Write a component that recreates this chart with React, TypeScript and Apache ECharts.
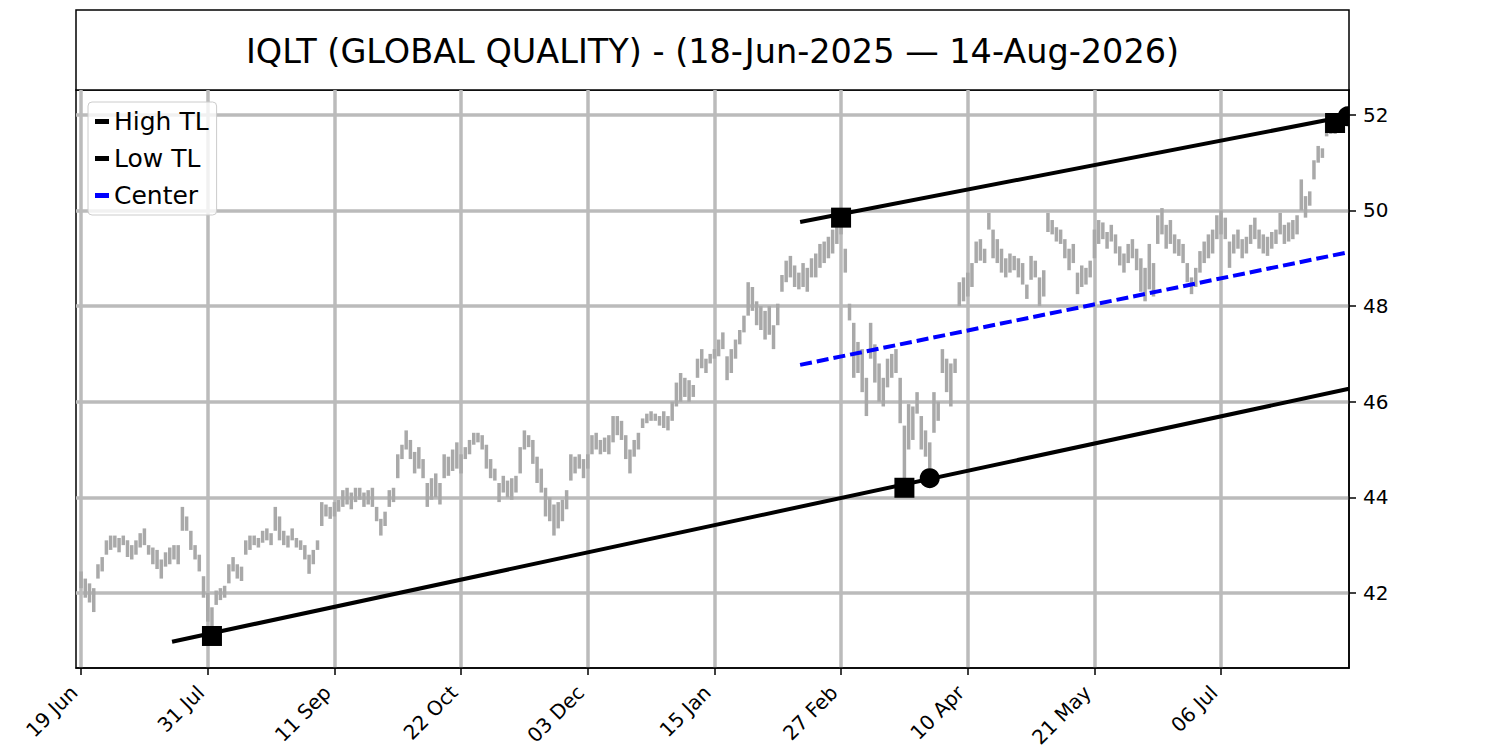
import React, { useEffect, useRef } from 'react';
import * as echarts from 'echarts';

const TITLE = 'IQLT (GLOBAL QUALITY) - (18-Jun-2025 — 14-Aug-2026)';

const tickIndex = [0, 30, 60, 90, 120, 150, 180, 210, 240, 270];
const tickLabels = ['19 Jun', '31 Jul', '11 Sep', '22 Oct', '03 Dec', '15 Jan', '27 Feb', '10 Apr', '21 May', '06 Jul'];
const yTicks = [42, 44, 46, 48, 50, 52];

const barLow = [
  42.1, 41.9, 41.8, 41.6, 42.3, 42.45, 42.8, 42.9, 42.95, 42.85,
  43.0, 42.75, 42.7, 42.8, 42.95, 43.0, 42.8, 42.6, 42.5, 42.3,
  42.55, 42.6, 42.7, 42.6, 43.3, 43.3, 42.9, 42.7, 42.45, 41.9,
  41.4, 41.3, 41.75, 41.85, 41.9, 42.2, 42.45, 42.3, 42.25, 42.8,
  42.9, 43.0, 42.95, 43.05, 43.1, 43.0, 43.3, 43.1, 43.0, 42.95,
  43.1, 42.95, 42.9, 42.7, 42.4, 42.6, 42.9, 43.4, 43.6, 43.55,
  43.6, 43.7, 43.8, 43.85, 43.75, 43.9, 43.95, 43.8, 43.85, 43.8,
  43.5, 43.2, 43.4, 43.8, 43.9, 44.4, 44.8, 45.0, 44.8, 44.5,
  44.6, 44.4, 43.8, 43.95, 44.0, 43.85, 44.4, 44.45, 44.55, 44.6,
  44.5, 44.8, 44.9, 45.1, 45.15, 45.0, 44.6, 44.4, 44.35, 43.9,
  44.1, 44.0, 43.95, 44.1, 44.5, 45.0, 45.05, 44.7, 44.3, 44.1,
  43.6, 43.5, 43.2, 43.35, 43.5, 43.75, 44.35, 44.5, 44.6, 44.4,
  44.6, 44.9, 45.0, 44.9, 44.95, 44.9, 45.15, 45.3, 45.2, 44.8,
  44.5, 44.85, 45.0, 45.45, 45.55, 45.6, 45.6, 45.5, 45.45, 45.4,
  45.6, 45.9, 46.0, 46.1, 46.0, 46.1, 46.5, 46.7, 46.6, 46.8,
  46.9, 46.95, 47.1, 46.45, 46.6, 46.9, 47.2, 47.45, 47.8, 47.9,
  47.6, 47.5, 47.3, 47.4, 47.1, 47.6, 48.3, 48.5, 48.6, 48.4,
  48.35, 48.4, 48.3, 48.6, 48.6, 48.8, 48.9, 49.0, 49.1, 49.3,
  49.5, 48.7, 47.7, 46.5, 46.6, 46.2, 45.7, 46.9, 46.4, 46.0,
  45.9, 46.3, 46.5, 46.6, 45.55, 44.4, 45.0, 45.2, 45.75, 45.0,
  44.85, 44.6, 45.35, 45.6, 46.6, 46.2, 45.9, 46.6, 48.0, 48.1,
  48.2, 48.4, 48.9, 48.95, 48.9, 49.6, 49.0, 48.9, 48.7, 48.6,
  48.7, 48.75, 48.6, 48.45, 48.15, 48.55, 48.6, 48.0, 48.2, 49.55,
  49.5, 49.35, 49.3, 49.0, 48.75, 48.9, 48.25, 48.4, 48.45, 48.6,
  49.0, 49.3, 49.4, 49.2, 49.35, 49.1, 48.85, 48.7, 48.9, 49.0,
  48.75, 48.3, 48.1, 48.35, 48.2, 49.3, 49.5, 49.2, 49.3, 49.1,
  49.05, 48.9, 48.5, 48.25, 48.4, 48.7, 48.9, 49.0, 49.1, 49.4,
  49.5, 49.4, 48.8, 49.1, 49.2, 49.0, 49.1, 49.3, 49.4, 49.2,
  49.1, 49.05, 49.2, 49.3, 49.5, 49.3, 49.35, 49.4, 49.5, 50.0,
  49.85, 50.1, 50.65, 51.0, 51.1, 51.55, 51.6, 51.6, 51.75, 51.8,
];

const barHigh = [
  42.45, 42.3, 42.2, 42.1, 42.6, 42.75, 43.1, 43.2, 43.2, 43.15,
  43.2, 43.1, 43.0, 43.1, 43.25, 43.35, 43.0, 42.95, 42.9, 42.7,
  42.85, 42.95, 43.0, 43.0, 43.8, 43.6, 43.3, 43.0, 42.8, 42.35,
  42.0, 41.7, 42.05, 42.1, 42.15, 42.6, 42.75, 42.6, 42.55, 43.1,
  43.2, 43.2, 43.15, 43.3, 43.35, 43.25, 43.8, 43.6, 43.3, 43.2,
  43.35, 43.15, 43.1, 43.0, 42.8, 42.9, 43.1, 43.9, 43.85, 43.8,
  43.9, 43.95, 44.15, 44.2, 44.1, 44.2, 44.2, 44.1, 44.15, 44.2,
  43.8, 43.55, 43.7, 44.15, 44.2, 44.9, 45.1, 45.4, 45.2, 44.95,
  45.05, 44.8, 44.3, 44.4, 44.5, 44.3, 44.9, 44.85, 45.0, 45.15,
  44.9, 45.05, 45.2, 45.35, 45.35, 45.3, 45.1, 44.8, 44.6, 44.3,
  44.45, 44.35, 44.4, 44.45, 45.05, 45.4, 45.3, 45.2, 44.85, 44.6,
  44.2, 44.0, 43.85, 43.9, 43.95, 44.15, 44.9, 44.85, 44.9, 44.8,
  44.9, 45.3, 45.35, 45.2, 45.25, 45.3, 45.7, 45.7, 45.6, 45.3,
  45.0, 45.2, 45.35, 45.65, 45.75, 45.8, 45.75, 45.7, 45.8, 45.7,
  46.0, 46.4, 46.6, 46.5, 46.45, 46.35, 46.9, 47.1, 46.9, 47.0,
  47.1, 47.3, 47.45, 46.95, 47.1, 47.3, 47.5, 47.8, 48.5, 48.4,
  48.1, 48.0, 47.9, 48.0, 47.6, 48.05, 48.65, 48.95, 49.05, 48.85,
  48.7, 48.9, 48.8, 49.0, 49.1, 49.3, 49.35, 49.45, 49.6, 49.7,
  49.85, 49.2, 48.05, 47.65, 47.25, 47.1, 46.5, 47.65, 47.2, 46.8,
  46.5, 46.9, 47.0, 47.1, 46.5, 45.5, 45.95, 45.9, 46.2, 45.7,
  45.4, 45.15, 46.2, 46.0, 47.1, 46.9, 46.8, 46.9, 48.5, 48.6,
  48.7, 48.9, 49.35, 49.4, 49.2, 49.95, 49.6, 49.4, 49.2, 49.0,
  49.1, 49.05, 49.0, 48.9, 48.45, 49.05, 48.95, 48.6, 48.75, 49.95,
  49.8, 49.65, 49.6, 49.4, 49.2, 49.3, 48.7, 48.85, 48.8, 48.95,
  49.6, 49.8, 49.75, 49.55, 49.7, 49.5, 49.25, 49.1, 49.3, 49.4,
  49.2, 49.0, 48.8, 49.3, 48.9, 49.9, 50.05, 49.7, 49.8, 49.5,
  49.4, 49.3, 48.9, 48.6, 48.8, 49.15, 49.35, 49.5, 49.6, 49.9,
  50.0, 49.85, 49.35, 49.5, 49.6, 49.4, 49.45, 49.7, 49.85, 49.6,
  49.5, 49.45, 49.55, 49.6, 49.95, 49.7, 49.75, 49.8, 49.9, 50.65,
  50.3, 50.4, 51.05, 51.35, 51.3, 51.85, 51.9, 51.9, 52.0, 52.05,
];

const highTL = [[170.3, 49.76], [300.3, 51.98]];
const lowTL = [[21.55, 40.98], [300.3, 46.27]];
const centerTL = [[170.3, 46.77], [300.3, 49.13]];
const anchorPoints = [[180, 49.85], [297, 51.83], [31, 41.1], [195, 44.2]];
const touchPoints = [[201, 44.4], [300, 51.97]];

const FONT = 'DejaVu Sans';

export default function App() {
  const ref = useRef<HTMLDivElement>(null);

  useEffect(() => {
    if (!ref.current) return;
    const chart = echarts.init(ref.current, null, { renderer: 'svg' });
    const candleData = barLow.map((lo, i) => [i, lo, barHigh[i]]);

    const option: any = {
      animation: false,
      textStyle: { fontFamily: FONT },
      title: {
        text: TITLE,
        left: 712.5,
        top: 34,
        textAlign: 'center',
        padding: 0,
        textStyle: { fontSize: 33.5, fontWeight: 'normal', color: '#000', fontFamily: FONT },
        z: 10,
      },
      graphic: [
        {
          type: 'rect',
          shape: { x: 76, y: 10, width: 1273, height: 80 },
          style: { fill: '#fff', stroke: '#000', lineWidth: 1.5 },
          z: 0,
        },
      ],
      legend: {
        data: ['High TL', 'Low TL', 'Center'],
        orient: 'vertical',
        left: 88,
        top: 102,
        icon: 'rect',
        itemWidth: 14,
        itemHeight: 5,
        itemGap: 12,
        padding: [7, 8, 7, 7],
        backgroundColor: 'rgba(255,255,255,0.8)',
        borderColor: '#cccccc',
        borderWidth: 1,
        borderRadius: 4,
        selectedMode: false,
        textStyle: { fontSize: 25, lineHeight: 25, color: '#000', fontFamily: FONT },
      },
      grid: {
        left: 76,
        right: 151,
        top: 90,
        bottom: 82,
        show: true,
        borderColor: '#000',
        borderWidth: 1.5,
        backgroundColor: 'transparent',
      },
      xAxis: {
        type: 'value',
        min: -1.2,
        max: 300.3,
        axisLine: { show: true, onZero: false, lineStyle: { color: '#000', width: 1.5 } },
        axisTick: { show: true, length: 7, customValues: tickIndex, lineStyle: { color: '#000', width: 1.5 } },
        axisLabel: {
          customValues: tickIndex,
          formatter: (v: number) => {
            const k = tickIndex.indexOf(Math.round(v));
            return k >= 0 ? tickLabels[k] : '';
          },
          rotate: 45,
          margin: 14,
          padding: [0, 10, 0, 0],
          fontSize: 20,
          color: '#000',
          fontFamily: FONT,
        },
        splitLine: { show: true, lineStyle: { color: '#bbbbbb', width: 3.5 } },
      },
      yAxis: {
        type: 'value',
        position: 'right',
        min: 40.43,
        max: 52.52,
        axisLine: { show: true, onZero: false, lineStyle: { color: '#000', width: 1.5 } },
        axisTick: { show: true, length: 7, customValues: yTicks, lineStyle: { color: '#000', width: 1.5 } },
        axisLabel: { customValues: yTicks, margin: 14, fontSize: 20, color: '#000', fontFamily: FONT },
        splitLine: { show: true, lineStyle: { color: '#bbbbbb', width: 3.5 } },
      },
      series: [
        {
          type: 'custom',
          name: 'Price',
          data: candleData,
          encode: { x: 0, y: [1, 2] },
          clip: true,
          renderItem: (params: any, api: any) => {
            const i = api.value(0);
            const lo = api.coord([i, api.value(1)]);
            const hi = api.coord([i, api.value(2)]);
            return {
              type: 'rect',
              shape: { x: lo[0] - 1.75, y: hi[1], width: 3.5, height: Math.max(1, lo[1] - hi[1]) },
              style: { fill: '#a9a9a9' },
            };
          },
          z: 2,
        },
        {
          type: 'line',
          name: 'High TL',
          data: highTL,
          symbol: 'none',
          showSymbol: false,
          lineStyle: { color: '#000', width: 4 },
          itemStyle: { color: '#000' },
          z: 3,
        },
        {
          type: 'line',
          name: 'Low TL',
          data: lowTL,
          symbol: 'none',
          showSymbol: false,
          lineStyle: { color: '#000', width: 4 },
          itemStyle: { color: '#000' },
          z: 3,
        },
        {
          type: 'line',
          name: 'Center',
          data: centerTL,
          symbol: 'none',
          showSymbol: false,
          lineStyle: { color: '#0000ff', width: 4, type: [12, 5] },
          itemStyle: { color: '#0000ff' },
          z: 3,
        },
        {
          type: 'scatter',
          name: 'Anchors',
          data: anchorPoints,
          symbol: 'rect',
          symbolSize: 20,
          itemStyle: { color: '#000', opacity: 1 },
          z: 4,
        },
        {
          type: 'custom',
          name: 'Touches',
          data: touchPoints,
          encode: { x: 0, y: 1 },
          clip: true,
          renderItem: (params: any, api: any) => {
            const p = api.coord([api.value(0), api.value(1)]);
            return { type: 'circle', shape: { cx: p[0], cy: p[1], r: 10 }, style: { fill: '#000' } };
          },
          z: 4,
        },
      ],
    };

    chart.setOption(option);
    return () => chart.dispose();
  }, []);

  return (
    <div
      ref={ref}
      style={{ position: 'absolute', left: 0, top: 0, width: 1500, height: 750, background: '#fff' }}
    />
  );
}
